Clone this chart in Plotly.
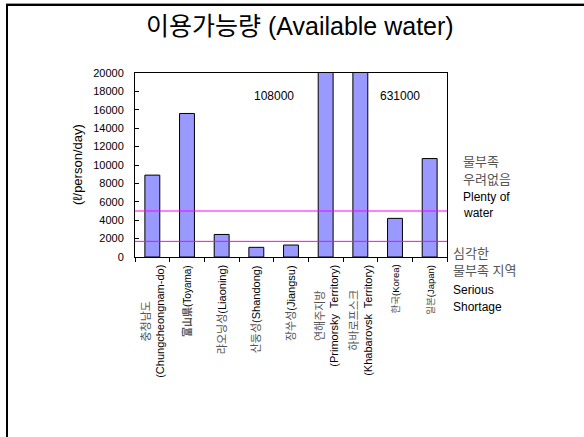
import plotly.graph_objects as go

# ---- data ----
categories = ["충청남도", "富山県", "랴오닝성", "산둥성", "장쑤성",
              "연해주지방", "하바로프스크", "한국", "일본"]
label_ko = ["충청남도", "<b>富山県</b>", "랴오닝성", "산둥성", "장쑤성",
            "연해주지방", "하바로프스크", "한국", "일본"]
label_en = ["(Chungcheongnam-do)", "(Toyama)", "(Liaoning)", "(Shandong)", "(Jiangsu)",
            "(Primorsky  Territory)", "(Khabarovsk  Territory)", "(Korea)", "(Japan)"]
two_line = [True, False, False, False, False, True, True, False, False]
label_size = [11, 10, 11, 11, 11, 11, 11, 9.5, 9.5]
values = [8900, 15600, 2450, 1050, 1300, 108000, 631000, 4200, 10700]
big_values = [108000, 631000]
plenty_level = 5000
serious_level = 1700
y_max = 20000
y_step = 2000

title = "이용가능량 (Available water)"
y_title = "(ℓ/person/day)"
plenty_text = ["물부족", "우려없음", "Plenty of", "water"]
serious_text = ["심각한", "물부족 지역", "Serious", "Shortage"]

# ---- layout geometry (pixels) ----
W, H = 584, 437
L, R, T, B = 135, 447, 73, 257


def px(x):
    return (x - L) / (R - L)


def py(y):
    return (B - y) / (B - T)


FONT = "Liberation Sans, Arial, Noto Sans CJK KR, sans-serif"
KO = "#555555"

fig = go.Figure()
fig.add_trace(go.Bar(
    x=categories, y=values,
    marker=dict(color="#9999FF", line=dict(color="#000000", width=1)),
    width=0.43, showlegend=False, hoverinfo="skip",
))

annotations = []
# title
annotations.append(dict(text=title, x=px(300), y=py(26), xref="paper", yref="paper",
                        showarrow=False, xanchor="center", yanchor="middle",
                        font=dict(size=25, color="#000", family=FONT)))
# y title
annotations.append(dict(text=y_title, x=px(77), y=py(165), xref="paper", yref="paper",
                        showarrow=False, textangle=-90, xanchor="center", yanchor="middle",
                        font=dict(size=13, color="#000", family=FONT)))
# x labels
for i, cat in enumerate(categories):
    ko = '<span style="color:%s">%s</span>' % (KO, label_ko[i])
    txt = ko + ("<br>" if two_line[i] else "") + label_en[i]
    annotations.append(dict(text=txt, x=cat, y=py(263), xref="x", yref="paper",
                            showarrow=False, textangle=-90, xanchor="center", yanchor="top",
                            align="center",
                            font=dict(size=label_size[i], color="#000", family=FONT)))
# big value labels
big_pos = [(3.5, 17500), (7.15, 17500)]
for v, (bx, by) in zip(big_values, big_pos):
    annotations.append(dict(text=str(v), x=bx, y=by, xref="x", yref="y",
                            showarrow=False, xanchor="center", yanchor="middle",
                            font=dict(size=12, color="#000", family=FONT)))
# right side notes
for t_, yy in zip(plenty_text, [161, 179, 197, 213]):
    is_ko = not t_.isascii()
    annotations.append(dict(text=t_, x=px(461), y=py(yy), xref="paper", yref="paper",
                            showarrow=False, xanchor="left", yanchor="middle",
                            font=dict(size=13 if is_ko else 12, color=KO if is_ko else "#000",
                                      family=FONT)))
for t_, yy in zip(serious_text, [253, 270, 290, 307]):
    is_ko = not t_.isascii()
    annotations.append(dict(text=t_, x=px(451), y=py(yy), xref="paper", yref="paper",
                            showarrow=False, xanchor="left", yanchor="middle",
                            font=dict(size=13 if is_ko else 12, color=KO if is_ko else "#000",
                                      family=FONT)))

shapes = [
    dict(type="line", xref="paper", yref="y", x0=0, x1=1, y0=plenty_level, y1=plenty_level,
         line=dict(color="#FF00FF", width=1)),
    dict(type="line", xref="paper", yref="y", x0=0, x1=1, y0=serious_level, y1=serious_level,
         line=dict(color="#FF00FF", width=1)),
    # slide frame
    dict(type="line", xref="paper", yref="paper", x0=px(6), x1=px(590), y0=py(3.5), y1=py(3.5),
         line=dict(color="#999999", width=1)),
    dict(type="line", xref="paper", yref="paper", x0=px(6), x1=px(590), y0=py(5), y1=py(5),
         line=dict(color="#000000", width=2)),
    dict(type="line", xref="paper", yref="paper", x0=px(7), x1=px(7), y0=py(4), y1=py(440),
         line=dict(color="#000000", width=2)),
]

fig.update_layout(
    width=W, height=H,
    margin=dict(l=L, r=W - R, t=T, b=H - B, pad=0),
    paper_bgcolor="white", plot_bgcolor="white",
    font=dict(family=FONT, size=11, color="#000"),
    annotations=annotations, shapes=shapes,
    xaxis=dict(type="category", range=[-0.5, len(categories) - 0.5],
               showline=True, linecolor="#000", linewidth=1, mirror=True,
               ticks="outside", tickson="boundaries", ticklen=4, tickcolor="#000",
               showticklabels=False, showgrid=False, zeroline=False, fixedrange=True),
    yaxis=dict(range=[0, y_max], dtick=y_step, tick0=0, tickformat="d",
               showline=True, linecolor="#000", linewidth=1, mirror=True,
               ticks="inside", ticklen=4, tickcolor="#000",
               tickfont=dict(size=11, family=FONT, color="#000"),
               ticklabelstandoff=8,
               showgrid=False, zeroline=False, fixedrange=True),
)

fig.write_html("out.html")
